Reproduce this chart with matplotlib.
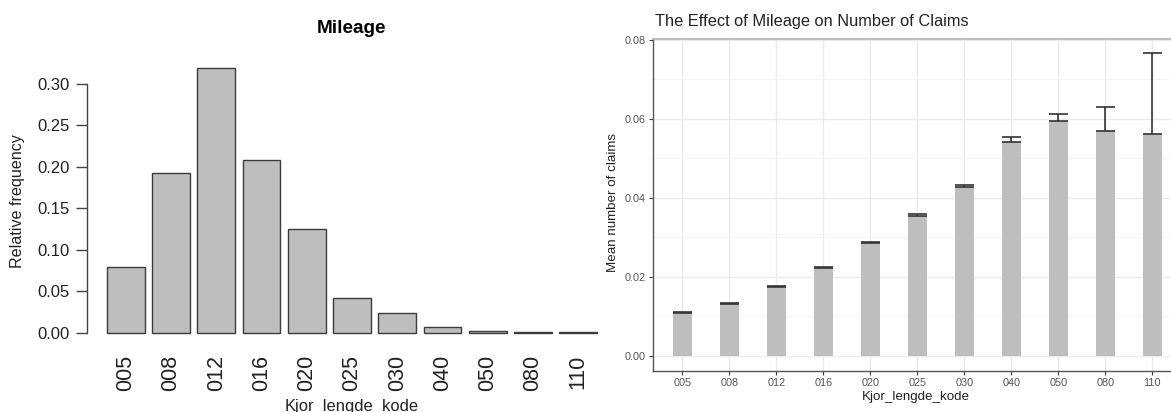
import numpy as np
import matplotlib.pyplot as plt

plt.rcParams['font.family'] = ['Liberation Sans', 'DejaVu Sans']

# %% Data
codes = ['005', '008', '012', '016', '020', '025', '030', '040', '050', '080', '110']
# left panel: relative frequency of each mileage code
rel_freq = [0.0796, 0.1926, 0.319, 0.2083, 0.125, 0.0422, 0.0241,
            0.0065, 0.0024, 0.0008, 0.0004]
# right panel: mean number of claims and upper end of the error bar
mean_claims = [0.01089, 0.01325, 0.01739, 0.02228, 0.02852, 0.03553,
               0.04287, 0.05425, 0.05949, 0.05705, 0.05612]
upper_claims = [0.01114, 0.0135, 0.01764, 0.02253, 0.02886, 0.03586,
                0.04337, 0.05544, 0.06135, 0.06295, 0.07671]

W, H = 1171, 412
fig = plt.figure(figsize=(W / 100, H / 100), dpi=100)


def box(x0, y0, x1, y1):
    # pixel box (top-left origin) -> figure fraction rect
    return [x0 / W, 1 - y1 / H, (x1 - x0) / W, (y1 - y0) / H]


# %% Left panel (base R style barplot)
ax1 = fig.add_axes(box(87.4, 57.6, 600, 343.3))
pos1 = 0.7 + 1.2 * np.arange(len(codes))
ax1.bar(pos1, rel_freq, width=1.0, color='#bebebe', edgecolor='#3c3c3c', linewidth=1.0)
ax1.set_xlim(-0.32, 13.277)
ax1.set_ylim(-0.0128, 0.3318)
for s in ['top', 'right', 'bottom']:
    ax1.spines[s].set_visible(False)
ax1.spines['left'].set_bounds(0, 0.30)
ax1.spines['left'].set_color('#444444')
ax1.spines['left'].set_linewidth(1.0)
ax1.set_yticks(np.arange(0, 0.31, 0.05))
ax1.set_yticklabels(['%.2f' % v for v in np.arange(0, 0.31, 0.05)])
ax1.tick_params(axis='y', length=8, width=1.0, color='#444444', pad=5,
                labelsize=12, labelcolor='#222222')
ax1.set_xticks(pos1)
ax1.set_xticklabels(codes, rotation=90)
ax1.tick_params(axis='x', length=0, pad=8.5, labelsize=15.5, labelcolor='#222222')
ax1.patch.set_alpha(0)

fig.text(351 / W, 1 - 28.7 / H, 'Mileage', ha='center', va='center',
         fontsize=13.7, fontweight='bold')
fig.text(18 / W, 1 - 201.5 / H, 'Relative frequency', ha='center', va='center',
         rotation=90, fontsize=11.6, color='#222222')
fig.text(351.5 / W, 1 - 411 / H, 'Kjor_lengde_kode', ha='center', va='baseline',
         fontsize=11.9, color='#222222')

# %% Right panel (ggplot style bars with error bars)
ax2 = fig.add_axes(box(653, 38.8, 1171, 371))
pos2 = np.arange(len(codes))
ax2.set_axisbelow(True)
ax2.bar(pos2, mean_claims, width=0.4, color='#bebebe', linewidth=0)
ax2.vlines(pos2, mean_claims, upper_claims, color='#333333', linewidth=1.2)
ax2.hlines(mean_claims, pos2 - 0.2, pos2 + 0.2, color='#333333', linewidth=1.2)
ax2.hlines(upper_claims, pos2 - 0.2, pos2 + 0.2, color='#333333', linewidth=1.2)
ax2.set_xlim(-0.623, 10.398)
ax2.set_ylim(-0.0038, 0.0803)

ax2.set_xticks(pos2)
ax2.set_xticklabels(codes)
ax2.set_yticks(np.arange(0, 0.081, 0.02))
ax2.set_yticklabels(['%.2f' % v for v in np.arange(0, 0.081, 0.02)])
ax2.set_yticks(np.arange(0.01, 0.08, 0.02), minor=True)
ax2.grid(True, which='major', color='#ebebeb', linewidth=1.0)
ax2.grid(True, which='minor', axis='y', color='#f2f2f2', linewidth=0.6)
ax2.tick_params(axis='both', which='major', length=3, width=0.8, color='#444444',
                pad=2, labelsize=7.8, labelcolor='#555555')
ax2.tick_params(axis='both', which='minor', length=0)

ax2.spines['right'].set_visible(False)
ax2.spines['top'].set_color('#b0b0b0')
ax2.spines['top'].set_linewidth(1.2)
for s in ['left', 'bottom']:
    ax2.spines[s].set_color('#555555')
    ax2.spines[s].set_linewidth(1.0)

fig.text(655 / W, 1 - 26 / H, 'The Effect of Mileage on Number of Claims',
         ha='left', va='baseline', fontsize=11.8, color='#222222')
fig.text(613 / W, 1 - 203 / H, 'Mean number of claims', ha='center', va='center',
         rotation=90, fontsize=9.6, color='#222222')
fig.text(916 / W, 1 - 397 / H, 'Kjor_lengde_kode', ha='center', va='center',
         fontsize=9.6, color='#222222')

fig.savefig('out.png', dpi=100)
